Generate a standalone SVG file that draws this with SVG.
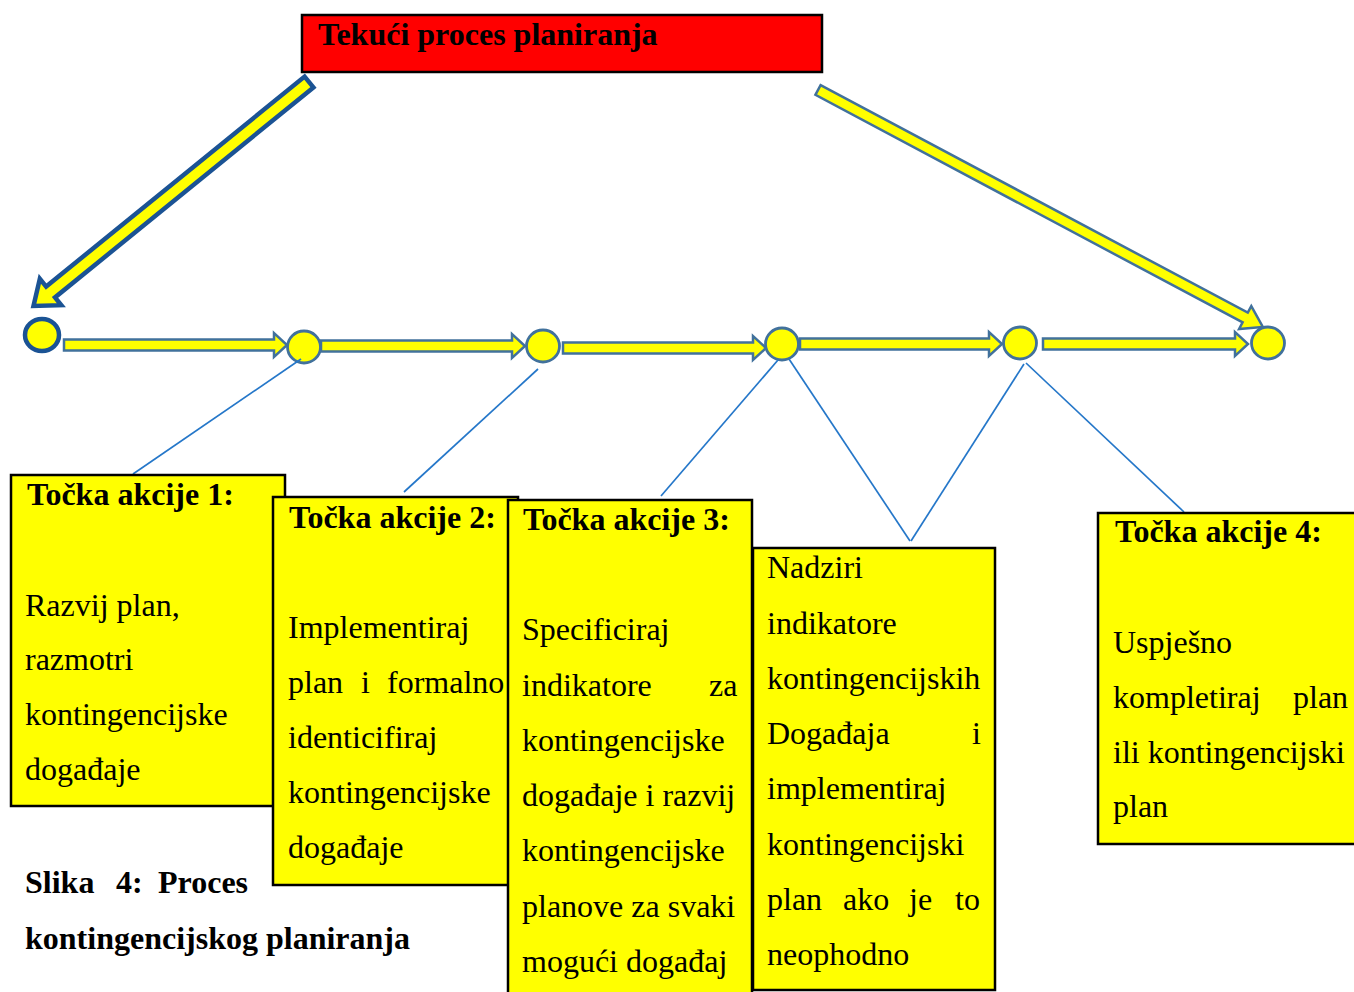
<svg xmlns="http://www.w3.org/2000/svg" width="1354" height="992" viewBox="0 0 1354 992">
<style>
.t{font-family:"Liberation Serif","Times New Roman",serif;font-size:32px;fill:#000}
.b{font-weight:bold}
.box{fill:#FFFF00;stroke:#000;stroke-width:2.5}
.blk{fill:#FFFF00;stroke:#41719C;stroke-width:2.5;stroke-linejoin:miter}
.node{fill:#FFFF00;stroke:#41719C;stroke-width:2.8}
.ln{stroke:#2577C9;stroke-width:1.7;fill:none}
</style>
<rect width="1354" height="992" fill="#fff"/>
<g id="title">
<rect x="302" y="15" width="520" height="57" fill="#FF0000" stroke="#000" stroke-width="2.5"/>
<text class="t b" x="318" y="45">Tekući proces planiranja</text>
</g>
<g id="connectors">
<path d="M0,-7 L333,-7 L333,-17 L355,0 L333,17 L333,7 L0,7 Z" transform="translate(309,82) rotate(140.9)" fill="#FFFF00" stroke="#1B5394" stroke-width="4.5"/>
<path d="M0,-5.5 L484,-5.5 L484,-13 L504,0 L484,13 L484,5.5 L0,5.5 Z" transform="translate(818,90) rotate(28.04)" class="blk"/>
<polygon class="blk" points="64,339.5 274,339.5 274,333 287,345 274,357 274,350.5 64,350.5"/>
<polygon class="blk" points="321,340.5 512,340.5 512,334 525,346 512,358 512,351.5 321,351.5"/>
<polygon class="blk" points="563,342.5 753,342.5 753,336 766,348 753,360 753,353.5 563,353.5"/>
<polygon class="blk" points="800,338.5 989,338.5 989,332 1002,344 989,356 989,349.5 800,349.5"/>
<polygon class="blk" points="1043,338.5 1235,338.5 1235,332 1248,344 1235,356 1235,349.5 1043,349.5"/>
</g>
<g id="n0"><ellipse cx="42" cy="335" rx="17" ry="16" fill="#FFFF00" stroke="#1B5394" stroke-width="4.5"/></g>
<g id="n1"><ellipse class="node" cx="304" cy="347" rx="16.5" ry="16"/></g>
<g id="n2"><ellipse class="node" cx="543" cy="346" rx="16.5" ry="16"/></g>
<g id="n3"><ellipse class="node" cx="782" cy="344" rx="16.5" ry="16"/></g>
<g id="n4"><ellipse class="node" cx="1020" cy="343" rx="16.5" ry="16"/></g>
<g id="n5"><ellipse class="node" cx="1268" cy="343" rx="16.5" ry="16"/></g>
<g id="links">
<line class="ln" x1="301" y1="359" x2="133" y2="474"/>
<line class="ln" x1="538" y1="369" x2="404" y2="492"/>
<line class="ln" x1="778" y1="360" x2="661" y2="496"/>
<line class="ln" x1="789" y1="359" x2="910" y2="541"/>
<line class="ln" x1="1024" y1="364" x2="911" y2="541"/>
<line class="ln" x1="1026" y1="363" x2="1184" y2="512"/>
</g>
<g id="box1">
<rect class="box" x="11" y="475" width="274" height="331"/>
<text class="t b" x="27" y="505">Točka akcije 1:</text>
<text class="t" x="25" y="616">Razvij plan,</text>
<text class="t" x="25" y="670">razmotri</text>
<text class="t" x="25" y="725">kontingencijske</text>
<text class="t" x="25" y="780">događaje</text>
</g>
<g id="box2">
<rect class="box" x="273" y="497" width="245" height="388"/>
<text class="t b" x="289" y="528">Točka akcije 2:</text>
<text class="t" x="288" y="638">Implementiraj</text>
<text class="t" y="693"><tspan x="288">plan</tspan><tspan x="361">i</tspan><tspan x="387">formalno</tspan></text>
<text class="t" x="288" y="748">identicifiraj</text>
<text class="t" x="288" y="803">kontingencijske</text>
<text class="t" x="288" y="858">događaje</text>
</g>
<g id="box3">
<rect class="box" x="508" y="500" width="244" height="500"/>
<text class="t b" x="523" y="530">Točka akcije 3:</text>
<text class="t" x="522" y="640">Specificiraj</text>
<text class="t" y="696"><tspan x="522">indikatore</tspan><tspan x="709">za</tspan></text>
<text class="t" x="522" y="751">kontingencijske</text>
<text class="t" x="522" y="806">događaje i razvij</text>
<text class="t" x="522" y="861">kontingencijske</text>
<text class="t" x="522" y="917">planove za svaki</text>
<text class="t" x="522" y="972">mogući događaj</text>
</g>
<g id="box4">
<rect class="box" x="753" y="548" width="242" height="442"/>
<text class="t" x="767" y="578">Nadziri</text>
<text class="t" x="767" y="634">indikatore</text>
<text class="t" x="767" y="689">kontingencijskih</text>
<text class="t" y="744"><tspan x="767">Događaja</tspan><tspan x="972">i</tspan></text>
<text class="t" x="767" y="799">implementiraj</text>
<text class="t" x="767" y="855">kontingencijski</text>
<text class="t" y="910"><tspan x="767">plan</tspan><tspan x="843">ako</tspan><tspan x="909">je</tspan><tspan x="955">to</tspan></text>
<text class="t" x="767" y="965">neophodno</text>
</g>
<g id="box5">
<rect class="box" x="1098" y="513" width="270" height="331"/>
<text class="t b" x="1115" y="542">Točka akcije 4:</text>
<text class="t" x="1113" y="653">Uspješno</text>
<text class="t" y="708"><tspan x="1113">kompletiraj</tspan><tspan x="1293">plan</tspan></text>
<text class="t" x="1113" y="763">ili kontingencijski</text>
<text class="t" x="1113" y="817">plan</text>
</g>
<g id="caption">
<text class="t b" y="893"><tspan x="25">Slika</tspan><tspan x="116">4:</tspan><tspan x="158">Proces</tspan></text>
<text class="t b" x="25" y="949">kontingencijskog planiranja</text>
</g>
</svg>
